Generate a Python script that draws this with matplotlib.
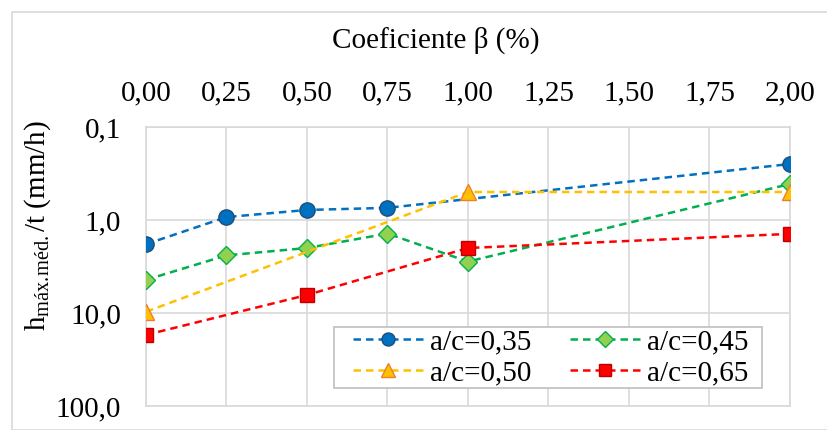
import matplotlib.pyplot as plt
from matplotlib.ticker import FixedLocator, NullLocator

plt.rcParams['font.family'] = ['Liberation Serif', 'DejaVu Serif']
plt.rcParams['mathtext.fontset'] = 'custom'
plt.rcParams['mathtext.rm'] = 'Liberation Serif'
plt.rcParams['mathtext.it'] = 'Liberation Serif:italic'

# dados
x_035 = [0.0, 0.25, 0.50, 0.75, 2.00]
y_035 = [1.82, 0.93, 0.78, 0.74, 0.25]

x_045 = [0.0, 0.25, 0.50, 0.75, 1.00, 2.00]
y_045 = [4.4, 2.4, 2.0, 1.4, 2.8, 0.41]

x_050 = [0.0, 1.00, 2.00]
y_050 = [9.7, 0.50, 0.50]

x_065 = [0.0, 0.50, 1.00, 2.00]
y_065 = [17.2, 6.4, 2.0, 1.41]

xticks = [0.0, 0.25, 0.5, 0.75, 1.0, 1.25, 1.5, 1.75, 2.0]
xtick_labels = ['0,00', '0,25', '0,50', '0,75', '1,00', '1,25', '1,50', '1,75', '2,00']
yticks = [0.1, 1, 10, 100]
ytick_labels = ['0,1', '1,0', '10,0', '100,0']

FS = 21
W, H = 828, 430

fig = plt.figure(figsize=(8.28, 4.30), dpi=100)
ax = fig.add_axes([146 / W, 1 - 406 / H, (790 - 146) / W, (406 - 127) / H])

# borda do gráfico (estilo Excel)
fig.patches.append(plt.Rectangle((12 / W, 0), 1 - 12 / W, 1 - 12 / H, transform=fig.transFigure,
                                 fill=False, edgecolor='#d9d9d9', linewidth=1.2))

lw = 1.8
dash = (3, 2)
l1, = ax.plot(x_035, y_035, linestyle='--', color='#0070C0', marker='o', markersize=11,
              markerfacecolor='#0070C0', markeredgecolor='#1F4E79', linewidth=lw, dashes=dash,
              label='a/c=0,35', zorder=4)
l2, = ax.plot(x_045, y_045, linestyle='--', color='#00B050', marker='D', markersize=9,
              markerfacecolor='#92D050', markeredgecolor='#00B050', linewidth=lw, dashes=dash,
              label='a/c=0,45', zorder=4)
l3, = ax.plot(x_050, y_050, linestyle='--', color='#FFC000', marker='^', markersize=12,
              markerfacecolor='#FFC000', markeredgecolor='#ED7D31', linewidth=lw, dashes=dash,
              label='a/c=0,50', zorder=4)
l4, = ax.plot(x_065, y_065, linestyle='--', color='#FF0000', marker='s', markersize=10,
              markerfacecolor='#FF0000', markeredgecolor='#C00000', linewidth=lw, dashes=dash,
              label='a/c=0,65', zorder=4)

ax.set_yscale('log')
ax.set_ylim(100, 0.1)
ax.set_xlim(0, 2)
ax.yaxis.set_major_locator(FixedLocator(yticks))
ax.yaxis.set_minor_locator(NullLocator())
ax.set_yticklabels(ytick_labels)
ax.set_xticks(xticks)
ax.set_xticklabels(xtick_labels)
ax.xaxis.tick_top()
ax.tick_params(axis='both', length=0, labelsize=FS)
ax.tick_params(axis='y', pad=18)
ax.tick_params(axis='x', pad=15)
ax.grid(True, color='#d9d9d9', linewidth=1.2)
ax.set_axisbelow(True)
for s in ax.spines.values():
    s.set_color('#d9d9d9')
    s.set_linewidth(1.2)

fig.text(436 / W, 1 - 40 / H, 'Coeficiente β (%)', ha='center', va='center', fontsize=FS)
fig.text(38 / W, 1 - 226 / H, r'h$_{\mathrm{máx.\!méd.}}$/t (mm/h)', ha='center', va='center',
         rotation=90, fontsize=FS)

# caixa da legenda
box = plt.Rectangle((334 / W, 1 - 388 / H), (762 - 334) / W, (388 - 327) / H,
                    transform=fig.transFigure, facecolor='white', edgecolor='#bfbfbf',
                    linewidth=1.2, zorder=3)
fig.patches.append(box)

# ordem por linhas, como no Excel
leg = fig.legend([l1, l3, l2, l4], ['a/c=0,35', 'a/c=0,50', 'a/c=0,45', 'a/c=0,65'],
                 ncol=2, loc='upper left', bbox_to_anchor=(353 / W, 1 - 329 / H),
                 fontsize=FS, frameon=False, borderpad=0, borderaxespad=0,
                 handlelength=2.4, columnspacing=1.3, handletextpad=0.25,
                 labelspacing=0.15, markerscale=0.85)
leg.set_zorder(5)

fig.savefig('out.png', dpi=100)
